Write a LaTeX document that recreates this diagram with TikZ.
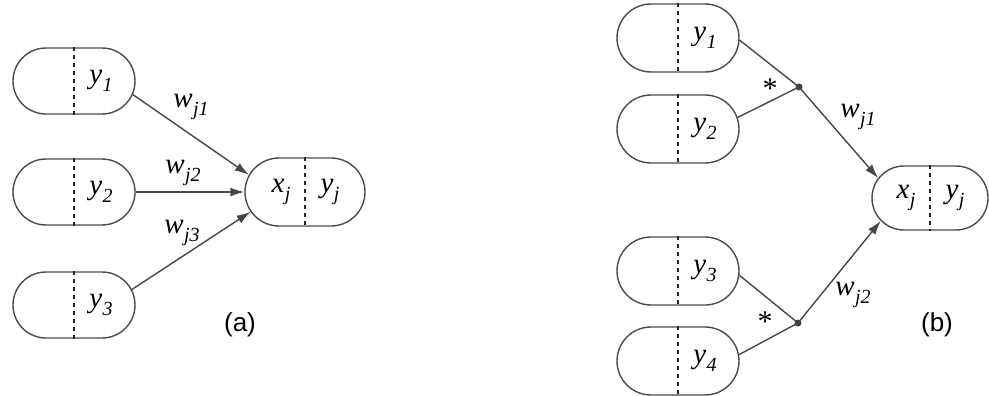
\documentclass[tikz,border=0pt]{standalone}
\usepackage{fontspec}
\setmainfont{Liberation Serif}
\setsansfont{Liberation Sans}
\usetikzlibrary{shapes.misc,arrows.meta,calc}
\newcommand\vlab[2]{\textit{#1}\kern0.5pt\raisebox{-0.28em}{\fontsize{20}{20}\selectfont\textit{#2}}}
\begin{document}
\begin{tikzpicture}[x=1pt,y=-1pt,
  cell/.style={rounded rectangle, draw=black!70, line width=1.4pt,
    minimum width=122pt, minimum height=66pt, inner sep=0pt},
  sep/.style={line width=1.6pt, draw=black!85, dash pattern=on 4pt off 4pt},
  txt/.style={font=\fontsize{29}{30}\selectfont, inner sep=0pt},
  ast/.style={font=\fontsize{30}{30}\selectfont, inner sep=0pt},
  figlabel/.style={font=\sffamily\fontsize{26}{28}\selectfont, inner sep=0pt},
  conn/.style={line width=1.4pt, draw=black!72},
  arr/.style={conn, -{Latex[length=14pt,width=9pt]}},
  jdot/.style={circle, fill=black!75, inner sep=0pt, minimum size=7pt},
]
\fill[white] (0,0) rectangle (989,396);
\useasboundingbox (0,0) rectangle (989,396);

% ---------- (a) ----------
\node[cell] (a1) at (74,81) {};
\node[cell] (a2) at (74,192) {};
\node[cell] (a3) at (74,305) {};
\node[cell, minimum width=120pt, minimum height=68pt] (at) at (305,192) {};
\foreach \n in {a1,a2,a3,at} \draw[sep] (\n.north) -- (\n.south);
\node[txt] (a1t) at ($(a1.center)+(27,0)$) {\vlab{y}{1}};
\node[txt] (a2t) at ($(a2.center)+(27,0)$) {\vlab{y}{2}};
\node[txt] (a3t) at ($(a3.center)+(27,0)$) {\vlab{y}{3}};
\node[txt] (atx) at ($(at.center)+(-24,0)$) {\vlab{x}{j}};
\node[txt] (aty) at ($(at.center)+(25,0)$) {\vlab{y}{j}};
\draw[arr] (a1.-13) -- (at.163);
\draw[arr] (a2.east) -- (at.west);
\draw[arr] (a3.15) -- (at.200);
\node[txt] (aw1) at (191,107) {\vlab{w}{j1}};
\node[txt] (aw2) at (183,173) {\vlab{w}{j2}};
\node[txt] (aw3) at (182,233) {\vlab{w}{j3}};
\node[figlabel] (alab) at (240,325) {(a)};

% ---------- (b) ----------
\node[cell, minimum height=68pt] (b1) at (678,38) {};
\node[cell, minimum height=68pt] (b2) at (678,129) {};
\node[cell, minimum height=68pt] (b3) at (678,271) {};
\node[cell, minimum height=68pt] (b4) at (678,361) {};
\node[cell, minimum width=116pt, minimum height=64pt] (bt) at (930,198) {};
\foreach \n in {b1,b2,b3,b4,bt} \draw[sep] (\n.north) -- (\n.south);
\node[txt] (b1t) at ($(b1.center)+(27,0)$) {\vlab{y}{1}};
\node[txt] (b2t) at ($(b2.center)+(27,0)$) {\vlab{y}{2}};
\node[txt] (b3t) at ($(b3.center)+(27,0)$) {\vlab{y}{3}};
\node[txt] (b4t) at ($(b4.center)+(27,0)$) {\vlab{y}{4}};
\node[txt] (btx) at ($(bt.center)+(-24,0)$) {\vlab{x}{j}};
\node[txt] (bty) at ($(bt.center)+(25,0)$) {\vlab{y}{j}};
\node[jdot] (d1) at (799,87) {};
\node[jdot] (d2) at (798,323) {};
\draw[conn] (b1.-2) -- (d1.center);
\draw[conn] (b2.11) -- (d1.center);
\draw[conn] (b3.-4) -- (d2.center);
\draw[conn] (b4.6) -- (d2.center);
\draw[arr] (d1.center) -- (bt.159);
\draw[arr] (d2.center) -- (bt.205);
\node[ast, anchor=north] (s1) at (770,79) {*};
\node[ast, anchor=north] (s2) at (765,312) {*};
\node[txt] (bw1) at (858,117) {\vlab{w}{j1}};
\node[txt] (bw2) at (853,295) {\vlab{w}{j2}};
\node[figlabel] (blab) at (937,325) {(b)};
\end{tikzpicture}
\end{document}
